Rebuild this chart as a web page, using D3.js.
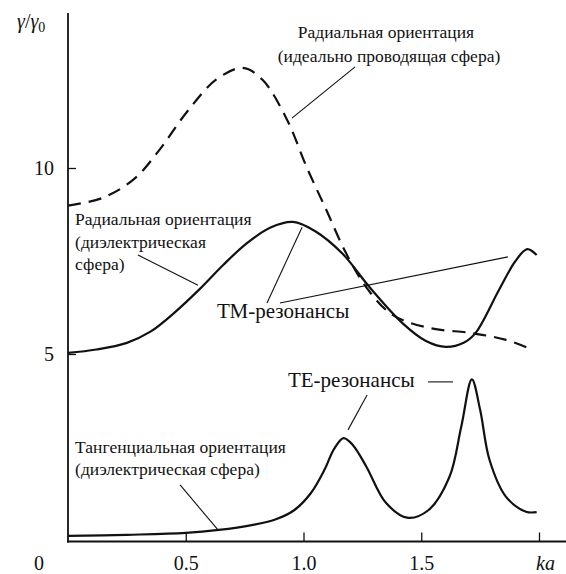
<!DOCTYPE html>
<html>
<head>
<meta http-equiv="Content-Type" content="text/html; charset=utf-8" />
<script src="https://cdn.jsdelivr.net/npm/d3@7"></script>
<title>gamma ka</title>
<style>
  #mainsvg text, #mainsvg tspan { font-family: 'Liberation Serif', 'DejaVu Serif', serif; }
</style>
</head>
<body style="margin:0">
<svg width="566" height="574" id="mainsvg" font-family="Liberation Serif"></svg>
<script>
// radial orientation, ideally conducting sphere (dashed)
const condKa  = [0, 0.148, 0.28, 0.39, 0.504, 0.63, 0.742, 0.826, 0.93, 1.013, 1.097, 1.18, 1.266, 1.378, 1.534, 1.717, 1.86, 1.97];
const condVal = [8.99, 9.2, 9.7, 10.5, 11.5, 12.38, 12.69, 12.37, 11.3, 10.03, 8.87, 7.72, 6.8, 6.05, 5.7, 5.56, 5.38, 5.12];

// radial orientation, dielectric sphere (TM resonances)
const radKa  = [0, 0.12, 0.25, 0.35, 0.45, 0.56, 0.66, 0.76, 0.86, 0.955, 1.05, 1.165, 1.28, 1.42, 1.52, 1.605, 1.68, 1.73, 1.83, 1.9, 1.95, 1.99];
const radVal = [5.03, 5.12, 5.3, 5.6, 6.1, 6.75, 7.4, 7.98, 8.4, 8.55, 8.3, 7.7, 6.8, 5.83, 5.35, 5.19, 5.3, 5.56, 6.72, 7.5, 7.82, 7.66];

// tangential orientation, dielectric sphere (TE resonances)
const tanKa  = [0, 0.25, 0.5, 0.64, 0.78, 0.88, 0.96, 1.03, 1.09, 1.13, 1.17, 1.21, 1.267, 1.35, 1.44, 1.53, 1.62, 1.67, 1.715, 1.75, 1.79, 1.86, 1.945, 1.99];
const tanVal = [0.11, 0.14, 0.19, 0.27, 0.4, 0.55, 0.8, 1.25, 1.9, 2.45, 2.74, 2.55, 1.97, 1.0, 0.6, 0.8, 1.7, 3.05, 4.32, 3.5, 2.15, 1.16, 0.76, 0.75];

const xTicks = [0.5, 1.0, 1.5, 2.0];
const xTickLabels = ['0.5', '1.0', '1.5', 'ka'];
const yTicks = [5, 10];

const fontFam = 'Liberation Serif';

let svg = d3.select('#mainsvg');
const width = +svg.attr('width');

const x = d3.scaleLinear().domain([0, 2]).range([68, 539]);
const y = d3.scaleLinear().domain([0, 10]).range([540, 168]);

// axes
let xAxis = svg.append('g').attr('transform', 'translate(0,541.5)')
  .call(d3.axisBottom(x).tickValues(xTicks).tickSizeInner(-9).tickSizeOuter(0).tickPadding(14)
    .tickFormat((d, i) => xTickLabels[i]));
xAxis.attr('font-family', fontFam);
xAxis.select('.domain').remove();
xAxis.selectAll('line').attr('stroke', '#111').attr('stroke-width', 1.3);
xAxis.selectAll('text').attr('font-size', 20).attr('fill', '#111')
  .attr('font-style', (d, i) => xTickLabels[i] === 'ka' ? 'italic' : 'normal')
  .attr('dx', (d, i) => xTickLabels[i] === 'ka' ? 6 : 0);

let yAxis = svg.append('g').attr('transform', 'translate(68,0)')
  .call(d3.axisLeft(y).tickValues(yTicks).tickSizeInner(-8).tickSizeOuter(0).tickPadding(14));
yAxis.attr('font-family', fontFam);
yAxis.select('.domain').remove();
yAxis.selectAll('line').attr('stroke', '#111').attr('stroke-width', 1.3);
yAxis.selectAll('text').attr('font-size', 20).attr('fill', '#111');

svg.append('line').attr('x1', 67).attr('x2', width).attr('y1', 541.5).attr('y2', 541.5)
  .attr('stroke', '#111').attr('stroke-width', 1.8);
svg.append('line').attr('x1', 68).attr('x2', 68).attr('y1', 13).attr('y2', 542.5)
  .attr('stroke', '#111').attr('stroke-width', 1.8);

svg.append('text').attr('x', 39).attr('y', 570).attr('text-anchor', 'middle')
  .attr('font-size', 20).attr('fill', '#111').text('0');

let yl = svg.append('text').attr('x', 17).attr('y', 28).attr('font-size', 20).attr('fill', '#111');
yl.append('tspan').attr('font-style', 'italic').text('γ');
yl.append('tspan').text('/');
yl.append('tspan').attr('font-style', 'italic').text('γ');
yl.append('tspan').attr('font-size', 14).attr('dy', 4).text('0');

// curves
const line = d3.line().x(d => x(d[0])).y(d => y(d[1])).curve(d3.curveCatmullRom.alpha(0.5));
const series = [
  { ka: condKa, val: condVal, dash: '13,8' },
  { ka: radKa, val: radVal, dash: null },
  { ka: tanKa, val: tanVal, dash: null }
];
svg.selectAll('.curve').data(series).join('path')
  .attr('class', 'curve')
  .attr('d', s => line(s.ka.map((k, i) => [k, s.val[i]])))
  .attr('fill', 'none')
  .attr('stroke', '#111')
  .attr('stroke-width', 2.2)
  .attr('stroke-dasharray', s => s.dash);

// leader lines, in ka / gamma units
const leaders = [
  [1.219, 12.72, 0.951, 11.34],
  [0.297, 7.66, 0.552, 6.85],
  [0.845, 6.37, 0.994, 8.41],
  [0.900, 6.37, 1.868, 7.61],
  [1.270, 3.90, 1.189, 2.96],
  [1.529, 4.25, 1.635, 4.25],
  [0.476, 1.48, 0.637, 0.27]
];
svg.selectAll('.leader').data(leaders).join('line')
  .attr('class', 'leader')
  .attr('x1', d => x(d[0])).attr('y1', d => y(d[1]))
  .attr('x2', d => x(d[2])).attr('y2', d => y(d[3]))
  .attr('stroke', '#111').attr('stroke-width', 1.1);

const notes = [
  { t: 'Радиальная ориентация', k: 1.350, v: 13.49, a: 'middle', s: 17.5 },
  { t: '(идеально проводящая сфера)', k: 1.363, v: 12.85, a: 'middle', s: 17.5 },
  { t: 'Радиальная ориентация', k: 0.030, v: 8.47, a: 'start', s: 17.5 },
  { t: '(диэлектрическая', k: 0.030, v: 7.85, a: 'start', s: 17.5 },
  { t: 'сфера)', k: 0.030, v: 7.26, a: 'start', s: 17.5 },
  { t: 'ТМ-резонансы', k: 0.633, v: 5.97, a: 'start', s: 21 },
  { t: 'ТЕ-резонансы', k: 0.934, v: 4.11, a: 'start', s: 21 },
  { t: 'Тангенциальная ориентация', k: 0.030, v: 2.34, a: 'start', s: 17.5 },
  { t: '(диэлектрическая сфера)', k: 0.030, v: 1.75, a: 'start', s: 17.5 }
];
svg.selectAll('.note').data(notes).join('text')
  .attr('class', 'note')
  .attr('x', d => x(d.k)).attr('y', d => y(d.v))
  .attr('text-anchor', d => d.a)
  .attr('font-size', d => d.s)
  .attr('fill', '#111')
  .text(d => d.t);
</script>
</body>
</html>
